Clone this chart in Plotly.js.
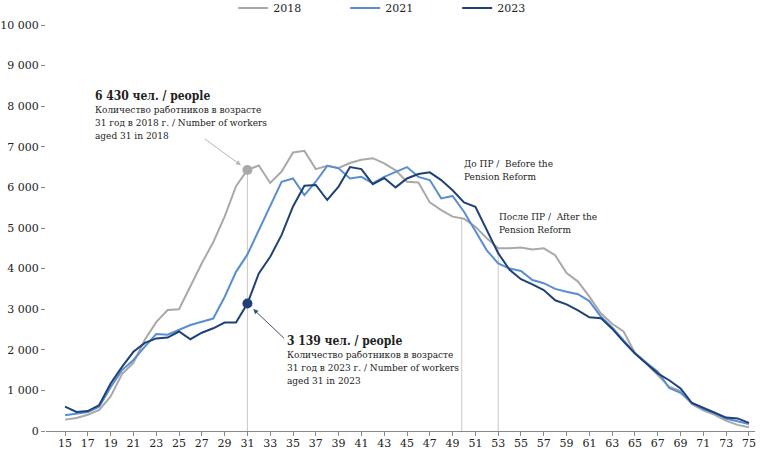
<!DOCTYPE html>
<html>
<head>
<meta charset="utf-8">
<script src="https://cdn.plot.ly/plotly-3.0.1.min.js"></script>
<style>
  html, body { margin: 0; padding: 0; background: #fff; }
  #chart { width: 760px; height: 450px; }
</style>
</head>
<body>
<div id="chart"></div>
<script>
// ages of workers, 15..75
const ages = [15, 16, 17, 18, 19, 20, 21, 22, 23, 24, 25, 26, 27, 28, 29, 30,
    31, 32, 33, 34, 35, 36, 37, 38, 39, 40, 41, 42, 43, 44, 45, 46, 47, 48, 49, 50,
    51, 52, 53, 54, 55, 56, 57, 58, 59, 60, 61, 62, 63, 64, 65, 66, 67, 68, 69, 70,
    71, 72, 73, 74, 75];

// number of workers by age
const workers2018 = [280, 320, 400, 520, 850, 1400, 1680, 2250, 2680, 2980, 3000, 3580, 4130, 4650, 5280, 6030,
    6430, 6540, 6110, 6390, 6860, 6900, 6450, 6530, 6480, 6600, 6680, 6720, 6590, 6420, 6140, 6120, 5630, 5440, 5280, 5230,
    5030, 4750, 4500, 4500, 4520, 4470, 4500, 4330, 3890, 3680, 3310, 2900, 2640, 2450, 1920, 1660, 1380, 1090, 980, 660,
    510, 400, 250, 150, 90];
const workers2021 = [390, 430, 470, 600, 1080, 1500, 1750, 2080, 2390, 2370, 2500, 2610, 2690, 2770, 3300, 3920,
    4350, 4950, 5550, 6140, 6220, 5810, 6140, 6530, 6470, 6220, 6260, 6100, 6260, 6390, 6500, 6260, 6180, 5730, 5790, 5400,
    4910, 4450, 4130, 4000, 3940, 3720, 3640, 3500, 3430, 3370, 3200, 2820, 2550, 2240, 1920, 1680, 1460, 1060, 940, 690,
    540, 440, 300, 240, 170];
const workers2023 = [600, 470, 490, 640, 1170, 1580, 1950, 2170, 2280, 2300, 2450, 2260, 2420, 2530, 2670, 2670,
    3139, 3880, 4290, 4830, 5530, 6040, 6060, 5690, 6020, 6500, 6450, 6080, 6230, 6000, 6220, 6330, 6370, 6180, 5930, 5630,
    5520, 4950, 4380, 3970, 3740, 3610, 3470, 3220, 3120, 2970, 2800, 2780, 2520, 2200, 1910, 1660, 1420, 1250, 1050, 690,
    560, 450, 330, 310, 200];

const yTickVals = [0, 1000, 2000, 3000, 4000, 5000, 6000, 7000, 8000, 9000, 10000];
const yTickText = ["0", "1 000", "2 000", "3 000", "4 000", "5 000", "6 000", "7 000", "8 000", "9 000", "10 000"];

// highlighted age and pension reform marks
const focusAge = 31;
const beforeReformAge = 49.8;
const afterReformAge = 53;
const beforeReformTop = 5250;
const afterReformTop = 4500;

const FONT = "DejaVu Serif";
const NOTE_FONT = "DejaVu Serif Condensed, DejaVu Serif";
const C2018 = "#a9a9a9";
const C2021 = "#5a8ed2";
const C2023 = "#1f4178";

const idx = ages.indexOf(focusAge);
const focus2018 = workers2018[idx];
const focus2023 = workers2023[idx];

function lineTrace(name, y, color) {
    return {
        x: ages, y: y, name: name,
        mode: "lines", type: "scatter",
        line: { color: color, width: 2 }
    };
}

const data = [
    lineTrace("2018", workers2018, C2018),
    lineTrace("2021", workers2021, C2021),
    lineTrace("2023", workers2023, C2023),
    {
        x: [focusAge], y: [focus2018], mode: "markers", showlegend: false,
        marker: { color: C2018, size: 10 }, hoverinfo: "skip"
    },
    {
        x: [focusAge], y: [focus2023], mode: "markers", showlegend: false,
        marker: { color: C2023, size: 10 }, hoverinfo: "skip"
    }
];

function vline(x, top) {
    return {
        type: "line", xref: "x", yref: "y", layer: "below",
        x0: x, x1: x, y0: 0, y1: top,
        line: { color: "#c9c9c9", width: 1 }
    };
}

const noteFont = { family: NOTE_FONT, size: 10, color: "#222" };
const fmt = v => String(v).replace(/\B(?=(\d{3})+(?!\d))/g, " ");

const layout = {
    width: 760, height: 450,
    margin: { l: 46, r: 5, t: 25, b: 19, autoexpand: false },
    paper_bgcolor: "#fff", plot_bgcolor: "#fff",
    font: { family: FONT, size: 11, color: "#222" },
    showlegend: true,
    legend: {
        orientation: "h", x: 0.264, xanchor: "left", y: 1.042, yanchor: "middle",
        font: { family: FONT, size: 11, color: "#222" },
        entrywidth: 67, itemwidth: 30
    },
    xaxis: {
        range: [13.33, 75.53],
        tickmode: "linear", tick0: 15, dtick: 2,
        showgrid: false, zeroline: false,
        showline: true, linecolor: "#888", linewidth: 1,
        ticks: "outside", ticklen: 4, tickcolor: "#888",
        ticklabelstandoff: -2,
        tickfont: { family: FONT, size: 11, color: "#222" }
    },
    yaxis: {
        range: [0, 10000],
        tickvals: yTickVals, ticktext: yTickText,
        showgrid: false, zeroline: false, showline: false,
        ticks: "outside", ticklen: 4, tickcolor: "#888",
        tickfont: { family: FONT, size: 11, color: "#222" }
    },
    shapes: [
        vline(focusAge, focus2018),
        vline(beforeReformAge, beforeReformTop),
        vline(afterReformAge, afterReformTop)
    ],
    annotations: [
        {
            x: 17.45, y: 8480, xanchor: "left", yanchor: "top", align: "left",
            showarrow: false, font: noteFont,
            text: "<span style='font-size:12px'><b>" + fmt(focus2018) + " чел. / people</b></span><br>" +
                "Количество работников в возрасте<br>31 год в 2018 г. / Number of workers<br>aged 31 in 2018"
        },
        {
            x: focusAge, y: focus2018, text: "", showarrow: true,
            arrowhead: 2, arrowsize: 1, arrowwidth: 1, arrowcolor: "#b5b5b5",
            ax: -44, ay: -32, standoff: 8
        },
        {
            x: 34.3, y: 2430, xanchor: "left", yanchor: "top", align: "left",
            showarrow: false, font: noteFont,
            text: "<span style='font-size:12px'><b>" + fmt(focus2023) + " чел. / people</b></span><br>" +
                "Количество работников в возрасте<br>31 год в 2023 г. / Number of workers<br>aged 31 in 2023"
        },
        {
            x: focusAge, y: focus2023, text: "", showarrow: true,
            arrowhead: 2, arrowsize: 1, arrowwidth: 1, arrowcolor: "#3a4f70",
            ax: 38, ay: 36, standoff: 8
        },
        {
            x: beforeReformAge, y: 6780, xanchor: "left", yanchor: "top", align: "left",
            showarrow: false, font: noteFont,
            text: "До ПР /  Before the<br>Pension Reform"
        },
        {
            x: afterReformAge - 0.1, y: 5470, xanchor: "left", yanchor: "top", align: "left",
            showarrow: false, font: noteFont,
            text: "После ПР /  After the<br>Pension Reform"
        }
    ]
};

const config = { displayModeBar: false, staticPlot: true };

Plotly.newPlot("chart", data, layout, config);
</script>
</body>
</html>
